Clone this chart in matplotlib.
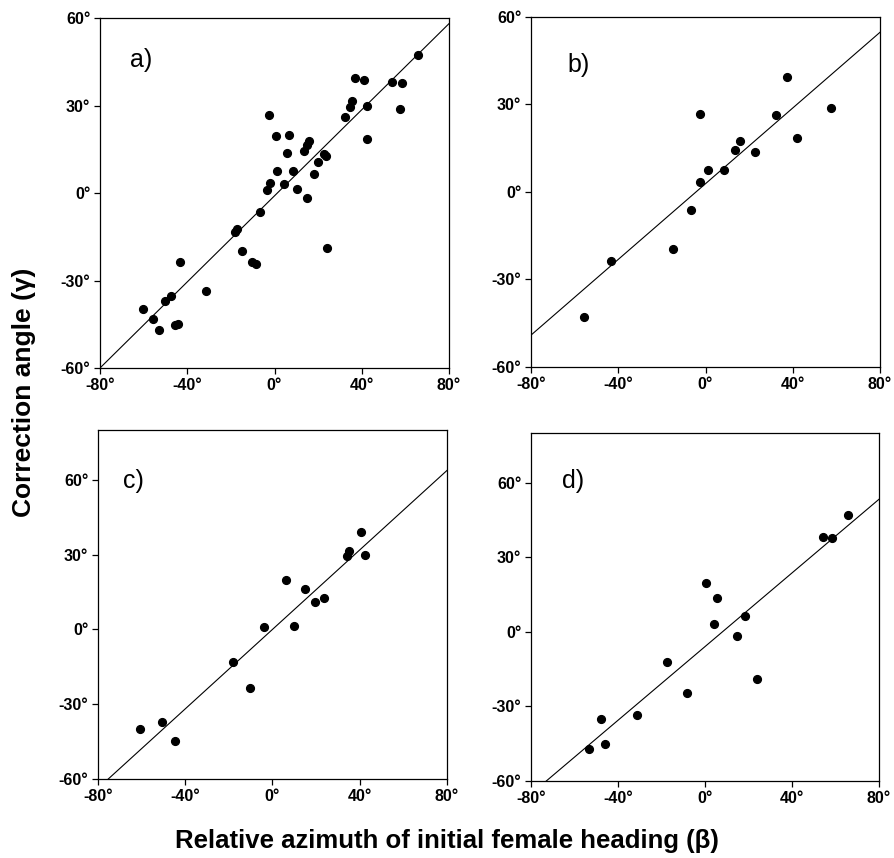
import matplotlib

matplotlib.use("Agg")
import matplotlib.pyplot as plt

plt.rcParams["font.family"] = ["Liberation Sans", "DejaVu Sans"]

# panel a) all females
a_beta = [65.6, 37.1, 41.0, 54.0, 58.3, 35.5, 34.6, 42.6, 57.7, 32.3, -2.5, 42.4,
          0.5, 6.6, 15.7, 14.9, 13.5, 5.5, 22.8, 23.6, 19.8, 1.3, 8.6, 18.3, -2.2,
          4.4, -3.6, 10.3, 14.8, -6.6, -18.2, -17.2, -15.1, 23.9, -10.2, -8.3,
          -43.3, -31.4, -47.6, -50.1, -60.3, -55.9, -53.1, -45.6, -44.4]
a_gamma = [47.2, 39.3, 38.9, 38.2, 37.8, 31.4, 29.4, 29.9, 28.9, 26.2, 26.6, 18.6,
           19.6, 19.9, 17.7, 16.4, 14.4, 13.6, 13.5, 12.6, 10.8, 7.4, 7.4, 6.5, 3.4,
           3.1, 0.9, 1.3, -1.6, -6.4, -13.2, -12.3, -19.8, -18.8, -23.8, -24.5,
           -23.6, -33.7, -35.2, -37.1, -39.7, -43.1, -47.1, -45.2, -44.8]

# panel b)
b_beta = [37.2, -2.5, 32.3, 57.5, 42.1, 15.8, 13.5, 22.7, 1.3, 8.6, -2.4, -6.7,
          -15.1, -43.3, -55.9]
b_gamma = [39.3, 26.6, 26.3, 28.9, 18.6, 17.6, 14.5, 13.6, 7.4, 7.6, 3.5, -6.3,
           -19.7, -23.5, -42.9]

# panel c)
c_beta = [40.7, 35.1, 34.3, 42.3, 6.3, 14.7, 19.6, 23.4, -3.7, 10.0, -18.3, -10.3,
          -60.6, -50.5, -44.7]
c_gamma = [38.9, 31.4, 29.4, 29.8, 19.9, 16.3, 11.0, 12.7, 0.9, 1.3, -13.1, -23.7,
           -39.8, -37.0, -44.8]

# panel d)
d_beta = [65.8, 54.0, 58.3, 0.6, 5.5, 18.2, 4.3, 14.7, -17.3, 23.9, -8.4, -47.7,
          -31.4, -53.2, -45.9]
d_gamma = [47.2, 38.3, 37.7, 19.7, 13.6, 6.4, 3.2, -1.6, -12.3, -18.9, -24.5, -35.1,
           -33.6, -47.2, -45.2]

# fitted lines (slope, intercept)
fits = {"a": (0.738, -0.95), "b": (0.649, 2.85), "c": (0.797, 0.0), "d": (0.741, -5.9)}

x_ticks = [-80, -40, 0, 40, 80]
y_ticks = [-60, -30, 0, 30, 60]

panels = [
    ("a", a_beta, a_gamma, [0.1119, 0.5711, 0.3904, 0.4079], 60, (0.086, 0.86)),
    ("b", b_beta, b_gamma, [0.5940, 0.5723, 0.3904, 0.4079], 60, (0.103, 0.843)),
    ("c", c_beta, c_gamma, [0.1096, 0.0921, 0.3904, 0.4068], 80, (0.072, 0.834)),
    ("d", d_beta, d_gamma, [0.5940, 0.0897, 0.3893, 0.4056], 80, (0.089, 0.842)),
]

fig = plt.figure(figsize=(8.94, 8.58), dpi=100)

for key, xs, ys, rect, ytop, lab_pos in panels:
    ax = fig.add_axes(rect)
    ax.set_xlim(-80, 80)
    ax.set_ylim(-60, ytop)
    m, b = fits[key]
    ax.axline((0, b), slope=m, color="black", lw=0.8)
    ax.plot(xs, ys, "o", color="black", ms=5.6, mec="black")
    ax.set_xticks(x_ticks)
    ax.set_yticks(y_ticks)
    ax.set_xticklabels([f"{v}°" for v in x_ticks], fontweight="bold", fontsize=11.5)
    ax.set_yticklabels([f"{v}°" for v in y_ticks], fontweight="bold", fontsize=11.5)
    ax.tick_params(direction="out", length=4, width=0.9, pad=3)
    for sp in ax.spines.values():
        sp.set_linewidth(0.9)
    ax.text(lab_pos[0], lab_pos[1], f"{key})", transform=ax.transAxes,
            fontsize=18, ha="left", va="baseline")

fig.text(0.5, 0.02, "Relative azimuth of initial female heading (β)",
         ha="center", va="center", fontsize=18.5, fontweight="bold")
fig.text(0.027, 0.543, "Correction angle (γ)", rotation=90,
         ha="center", va="center", fontsize=19, fontweight="bold")

fig.savefig("out.png", dpi=100)
